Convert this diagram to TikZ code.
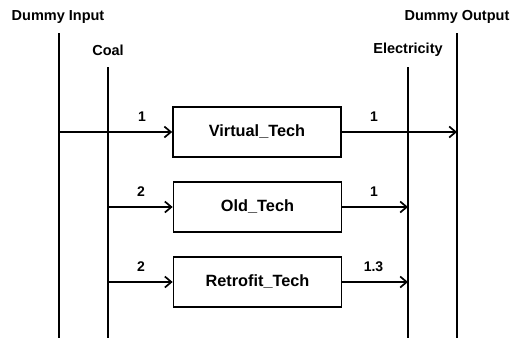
\documentclass[tikz,border=0pt]{standalone}
\usepackage{fontspec}
\setmainfont{Liberation Sans}
\usetikzlibrary{arrows.meta}
\begin{document}
\begin{tikzpicture}[x=1pt,y=-1pt,
  bus/.style={line width=1.7pt},
  flow/.style={line width=1.7pt,-{Straight Barb[length=6.5pt,width=11pt,line width=1.7pt]}},
  techbox/.style={draw,line width=1.7pt,minimum width=168pt,minimum height=50pt,inner sep=0pt,font=\fontsize{16.3}{19}\selectfont\bfseries},
  head/.style={font=\fontsize{14.5}{17}\selectfont\bfseries,inner sep=0pt},
  num/.style={font=\fontsize{14}{16}\selectfont\bfseries,inner sep=0pt}]
\useasboundingbox (0,0) rectangle (516,338);
% buses
\node[head] (din) at (58,17) {Dummy Input};
\node[head] (coal) at (108,50) {Coal};
\node[head] (elec) at (408,50) {Electricity};
\node[head] (dout) at (457,17) {Dummy Output};
\coordinate (dinT) at (59,33);  \coordinate (dinB) at (59,338);
\coordinate (coalT) at (108,67); \coordinate (coalB) at (108,338);
\coordinate (elecT) at (408,67); \coordinate (elecB) at (408,338);
\coordinate (doutT) at (457,33); \coordinate (doutB) at (457,338);
\draw[bus] (dinT) -- (dinB);
\draw[bus] (coalT) -- (coalB);
\draw[bus] (elecT) -- (elecB);
\draw[bus] (doutT) -- (doutB);
% boxes
\node[techbox] (vt) at (257,132) {Virtual\_Tech};
\node[techbox] (ot) at (257.5,207) {Old\_Tech};
\node[techbox] (rt) at (257.5,282) {Retrofit\_Tech};
% tap points
\coordinate (vin) at (59,132);  \coordinate (vout) at (457,132);
\coordinate (oin) at (108,207); \coordinate (oout) at (408,207);
\coordinate (rin) at (108,282); \coordinate (rout) at (408,282);
\draw[flow] (vin) -- (vt.west);
\draw[flow] (vt.east) -- (vout);
\draw[flow] (oin) -- (ot.west);
\draw[flow] (ot.east) -- (oout);
\draw[flow] (rin) -- (rt.west);
\draw[flow] (rt.east) -- (rout);
% labels
\node[num] (l1) at (142,117) {1};
\node[num] (l2) at (374,117) {1};
\node[num] (l3) at (141,192) {2};
\node[num] (l4) at (374,192) {1};
\node[num] (l5) at (141,267) {2};
\node[num] (l6) at (373.5,267) {1.3};
\end{tikzpicture}
\end{document}
